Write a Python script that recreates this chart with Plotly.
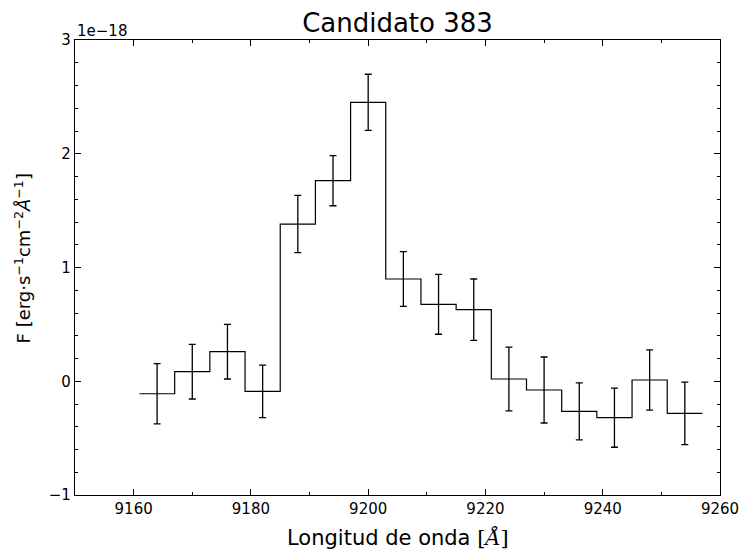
import plotly.graph_objects as go

# Binned spectrum of candidate 383 (flux in units of 1e-18 erg s^-1 cm^-2 A^-1)
wavelength = [9164, 9170, 9176, 9182, 9188, 9194, 9200, 9206,
              9212, 9218, 9224, 9230, 9236, 9242, 9248, 9254]
flux = [-0.11, 0.084, 0.26, -0.089, 1.382, 1.763, 2.452, 0.899,
        0.676, 0.629, 0.02, -0.077, -0.265, -0.32, 0.011, -0.282]
flux_err = [0.265, 0.24, 0.24, 0.23, 0.252, 0.22, 0.247, 0.24,
            0.263, 0.27, 0.28, 0.29, 0.25, 0.26, 0.265, 0.275]
bin_width = 6
scale_label = "1e\u221218"

x_ticks = [9160, 9180, 9200, 9220, 9240, 9260]
y_ticks = [-1, 0, 1, 2, 3]
y_tick_text = ["\u22121", "0", "1", "2", "3"]

# step outline built from bin edges
half = bin_width / 2
edges = [c - half for c in wavelength] + [wavelength[-1] + half]
levels = flux + [flux[-1]]

font_family = "DejaVu Sans"

fig = go.Figure()
fig.add_trace(go.Scatter(
    x=edges, y=levels, mode="lines", line_shape="hv",
    line=dict(color="black", width=1.2), showlegend=False, hoverinfo="skip",
))
fig.add_trace(go.Scatter(
    x=wavelength, y=flux, mode="markers",
    marker=dict(color="black", size=1),
    error_y=dict(type="data", array=flux_err, visible=True,
                 color="black", thickness=1.3, width=3.5),
    showlegend=False,
))

axis_common = dict(
    showline=True, linecolor="black", linewidth=1.2, mirror="allticks",
    ticks="inside", tickcolor="black", tickwidth=1, ticklen=6,
    showgrid=False, zeroline=False, automargin=False,
    ticklabeloverflow="allow",
    tickfont=dict(family=font_family, size=15, color="black"),
)

fig.update_xaxes(
    range=[9150, 9260], tickvals=x_ticks,
    minor=dict(dtick=10, tick0=9150, ticks="inside", ticklen=3,
               tickcolor="black", tickwidth=1, showgrid=False),
    **axis_common,
)
fig.update_yaxes(
    range=[-1, 3], tickvals=y_ticks, ticktext=y_tick_text,
    minor=dict(dtick=0.2, tick0=0, ticks="inside", ticklen=3,
               tickcolor="black", tickwidth=1, showgrid=False),
    **axis_common,
)

fig.update_layout(
    width=743, height=553,
    margin=dict(l=75, r=23, t=40, b=58, autoexpand=False),
    plot_bgcolor="white", paper_bgcolor="white",
    font=dict(family=font_family, color="black"),
    title=dict(text="Candidato 383", x=0.535, xanchor="center",
               y=0.958, yanchor="middle",
               font=dict(family=font_family, size=26, color="black")),
    annotations=[
        dict(text=scale_label, xref="paper", yref="paper", x=0, y=1,
             xanchor="left", yanchor="bottom", showarrow=False,
             font=dict(family=font_family, size=15, color="black"),
             yshift=-2),
        dict(text="Longitud de onda <span style=\"font-family:'DejaVu Serif'\">[<i>Å</i>]</span>",
             xref="paper", yref="paper", x=0.5, y=0, xanchor="center",
             yanchor="top", yshift=-28, showarrow=False,
             font=dict(family=font_family, size=21, color="black")),
        dict(text="F [erg·s<sup>\u22121</sup>cm<sup>\u22122</sup><i>Å</i><sup>\u22121</sup>]",
             xref="paper", yref="paper", x=0, y=0.52, xanchor="right",
             yanchor="middle", xshift=-38, showarrow=False, textangle=-90,
             font=dict(family=font_family, size=18, color="black")),
    ],
)

fig.write_html("out.html")
